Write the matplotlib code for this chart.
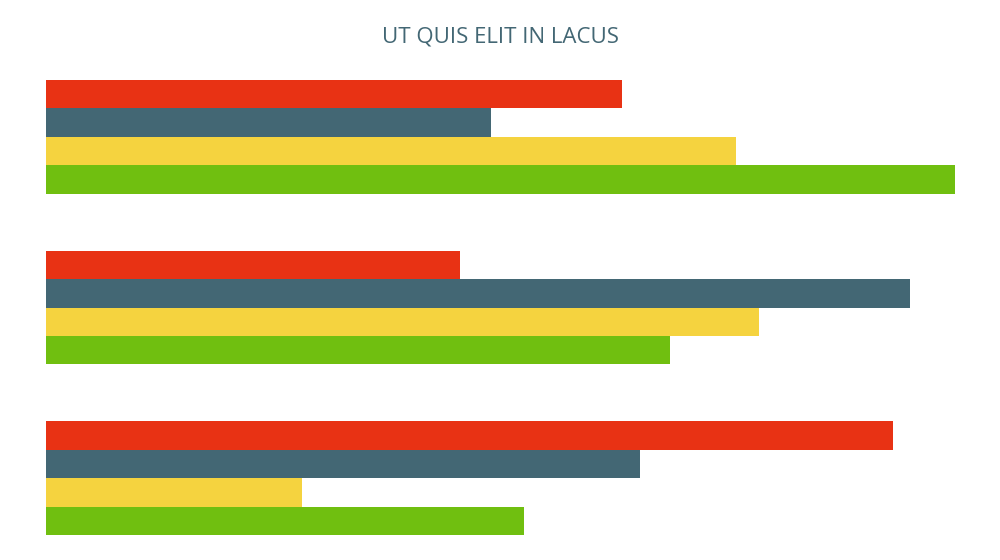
import matplotlib
matplotlib.use("Agg")
import matplotlib.pyplot as plt

groups = ["A", "B", "C"]
series_names = ["Red", "Slate", "Yellow", "Green"]
colors = ["#e83214", "#436774", "#f5d33f", "#70bf10"]
red = [63.4, 45.5, 93.2]
slate = [49.0, 95.1, 65.4]
yellow = [75.9, 78.4, 28.2]
green = [100.0, 68.6, 52.6]
series = [red, slate, yellow, green]

fig = plt.figure(figsize=(10, 5.6), dpi=100)
ax = fig.add_axes([0.046, 0.0446, 0.909, 0.8125])
for i, (vals, c) in enumerate(zip(series, colors)):
    ys = [g * 6 + i for g in range(len(groups))]
    ax.barh(ys, vals, height=1.0, color=c, linewidth=0)
ax.set_xlim(0, 100)
ax.set_ylim(15.5, -0.5)
ax.axis("off")
fig.text(0.5, 0.934, "UT QUIS ELIT IN LACUS", ha="center", va="center",
         fontsize=16, color="#436774", family=["Open Sans", "DejaVu Sans"])
fig.savefig("out.png", dpi=100, facecolor="white")
